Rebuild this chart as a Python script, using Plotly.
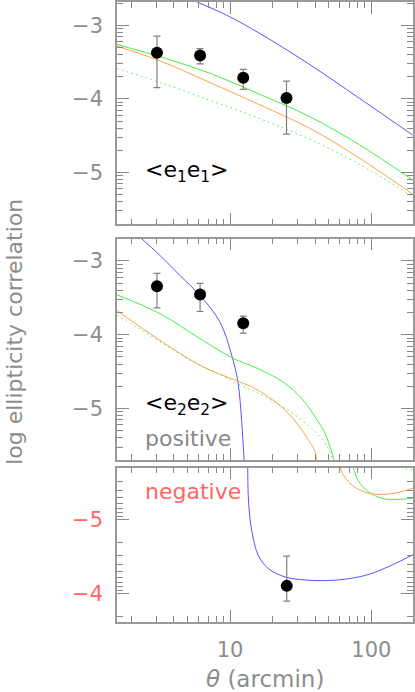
import numpy as np
import plotly.graph_objects as go

# angular scale in arcmin; all y values are log10 of the correlation
theta_obs = [3.04, 6.14, 12.4, 25.1]
e1e1_obs = [-3.375, -3.412, -3.714, -3.99]
e1e1_err_up = [0.226, 0.095, 0.113, 0.23]
e1e1_err_dn = [0.474, 0.112, 0.158, 0.49]

e2e2_pos_theta = [3.04, 6.14, 12.4]
e2e2_pos_obs = [-3.345, -3.457, -3.844]
e2e2_pos_err_up = [0.175, 0.152, 0.095]
e2e2_pos_err_dn = [0.291, 0.229, 0.134]

e2e2_neg_theta = [25.2]
e2e2_neg_obs = [-4.108]
e2e2_neg_err_up = [0.206]
e2e2_neg_err_dn = [0.403]

# model curves, <e1e1>
blue_11_theta = [5.82, 9.48, 16.3, 35.7, 82.6, 195.4]
blue_11 = [-2.684, -2.865, -3.114, -3.52, -3.994, -4.49]
model_11_theta = [1.585, 3.21, 7.23, 16.3, 36.7, 82.6, 197.0]
green_11 = [-3.263, -3.429, -3.655, -3.94, -4.242, -4.625, -5.105]
orange_11 = [-3.284, -3.487, -3.78, -4.083, -4.400, -4.806, -5.298]
dotted_11 = [-3.588, -3.78, -4.02, -4.27, -4.55, -4.89, -5.33]

# model curves, <e2e2> positive part
blue_22p_theta = [2.25, 3.21, 4.44, 6.14, 8.49, 10.28, 11.36, 12.1, 12.5, 12.7]
blue_22p = [-2.662, -2.931, -3.201, -3.470, -3.830, -4.279, -4.635, -5.18, -5.62, -5.85]
green_22p_theta = [1.585, 3.21, 6.14, 10.84, 14.22, 18.66, 24.5, 32.14, 39.9, 46.9, 52.3, 54.3, 55.3]
green_22p = [-3.461, -3.717, -4.054, -4.333, -4.423, -4.526, -4.660, -4.863, -5.110, -5.334, -5.582, -5.694, -5.80]
orange_22p_theta = [1.585, 2.72, 6.14, 10.84, 14.22, 18.66, 24.5, 30.4, 35.8, 39.9, 41.0, 42.0]
orange_22p = [-3.673, -3.987, -4.414, -4.616, -4.706, -4.841, -5.020, -5.222, -5.425, -5.582, -5.694, -5.82]
dotted_22p_theta = [1.585, 2.72, 5.51, 8.49, 10.84, 14.22, 18.66, 24.5, 32.14, 39.9, 46.9, 50.9, 52.8, 54.5]
dotted_22p = [-3.740, -4.009, -4.369, -4.54, -4.65, -4.751, -4.863, -4.997, -5.155, -5.313, -5.469, -5.582, -5.671, -5.80]

# model curves, <e2e2> negative part (log of |value|)
blue_22n_theta = [13.32, 13.34, 13.46, 13.84, 14.62, 15.85, 18.66, 24.5, 32.1, 46.9, 65.0, 94.8, 138.9, 197.2]
blue_22n = [-5.85, -5.709, -5.328, -5.013, -4.744, -4.521, -4.341, -4.229, -4.192, -4.179, -4.198, -4.260, -4.386, -4.529]
orange_22n_theta = [55.8, 59.8, 65.0, 76.4, 94.8, 118.0, 146.6, 197.2]
orange_22n = [-5.82, -5.709, -5.575, -5.440, -5.363, -5.342, -5.359, -5.427]
green_22n_theta = [70.0, 74.3, 80.7, 94.8, 118.0, 146.6, 197.2]
green_22n = [-5.84, -5.709, -5.530, -5.382, -5.292, -5.275, -5.292]
dotted_22n_theta = [160.0, 175.0, 197.2]
dotted_22n = [-5.80, -5.69, -5.68]

BLUE = "#5555ff"
GREEN = "#44ee44"
ORANGE = "#ffa347"
GREY = "#8c8c8c"
RED = "#ff6666"
FONT = "DejaVu Sans"


def model_line(x, y, color, axis, dotted=False):
    return go.Scatter(
        x=x, y=y, mode="lines", xaxis="x" + axis, yaxis="y" + axis,
        line=dict(color=color, width=1, shape="spline", smoothing=1.0,
                  dash="1.5px,3.5px" if dotted else "solid"),
        hoverinfo="skip", showlegend=False,
    )


def obs_points(x, y, up, dn, axis):
    return go.Scatter(
        x=x, y=y, mode="markers", xaxis="x" + axis, yaxis="y" + axis,
        marker=dict(color="black", size=12),
        error_y=dict(type="data", symmetric=False, array=up, arrayminus=dn,
                     color="#808080", thickness=1.2, width=3.5),
        showlegend=False,
    )


traces = [
    model_line(blue_11_theta, blue_11, BLUE, ""),
    model_line(model_11_theta, green_11, GREEN, ""),
    model_line(model_11_theta, orange_11, ORANGE, ""),
    model_line(model_11_theta, dotted_11, GREEN, "", dotted=True),
    obs_points(theta_obs, e1e1_obs, e1e1_err_up, e1e1_err_dn, ""),

    model_line(blue_22p_theta, blue_22p, BLUE, "2"),
    model_line(green_22p_theta, green_22p, GREEN, "2"),
    model_line(orange_22p_theta, orange_22p, ORANGE, "2"),
    model_line(dotted_22p_theta, dotted_22p, GREEN, "2", dotted=True),
    obs_points(e2e2_pos_theta, e2e2_pos_obs, e2e2_pos_err_up, e2e2_pos_err_dn, "2"),

    model_line(blue_22n_theta, blue_22n, BLUE, "3"),
    model_line(green_22n_theta, green_22n, GREEN, "3"),
    model_line(orange_22n_theta, orange_22n, ORANGE, "3"),
    model_line(dotted_22n_theta, dotted_22n, GREEN, "3", dotted=True),
    obs_points(e2e2_neg_theta, e2e2_neg_obs, e2e2_neg_err_up, e2e2_neg_err_dn, "3"),
]

# minor tick positions: log10(k * 10^n)
x_minor = [k * 10.0 ** n for n in range(0, 3) for k in range(2, 10)]
y_minor = [n + np.log10(k) for n in range(-7, -1) for k in range(2, 10)]


def x_axis(anchor, labels):
    return dict(
        type="log", range=[0.2, 2.295], anchor=anchor,
        showline=True, linecolor="#999999", linewidth=1.5, mirror="ticks",
        ticks="inside", ticklen=12, tickwidth=1, tickcolor="#888888",
        tickvals=[10, 100], ticktext=["10", "100"], showticklabels=labels,
        tickfont=dict(family=FONT, size=21, color=GREY), ticklabelstandoff=8,
        minor=dict(tickvals=x_minor, ticks="inside", ticklen=6, tickcolor="#888888"),
        showgrid=False, zeroline=False,
    )


def y_axis(anchor, domain, rng, vals, color):
    return dict(
        domain=domain, range=rng, anchor=anchor,
        showline=True, linecolor="#999999", linewidth=1.5, mirror="ticks",
        ticks="inside", ticklen=12, tickwidth=1, tickcolor="#888888",
        tickvals=vals, ticktext=["\u2212" + str(abs(v)) for v in vals],
        tickfont=dict(family=FONT, size=21, color=color), ticklabelstandoff=8,
        minor=dict(tickvals=y_minor, ticks="inside", ticklen=6, tickcolor="#888888"),
        showgrid=False, zeroline=False,
    )


layout = go.Layout(
    width=415, height=692,
    margin=dict(l=117, r=1.5, t=0, b=69.5),
    plot_bgcolor="white", paper_bgcolor="white",
    showlegend=False,
    xaxis=x_axis("y", False),
    xaxis2=x_axis("y2", False),
    xaxis3=x_axis("y3", True),
    yaxis=y_axis("x", [0.6413, 1.0], [-5.705, -2.685], [-5, -4, -3], GREY),
    yaxis2=y_axis("x2", [0.2610, 0.6182], [-5.70, -2.70], [-5, -4, -3], GREY),
    yaxis3=y_axis("x3", [0.0, 0.2490], [-3.62, -5.705], [-5, -4], RED),
    annotations=[
        dict(text="&lt;e<sub>1</sub>e<sub>1</sub>&gt;", x=np.log10(2.43), y=-4.99,
             xref="x", yref="y", xanchor="left", yanchor="middle", showarrow=False,
             font=dict(family=FONT, size=22, color="black")),
        dict(text="&lt;e<sub>2</sub>e<sub>2</sub>&gt;", x=np.log10(2.43), y=-4.95,
             xref="x2", yref="y2", xanchor="left", yanchor="middle", showarrow=False,
             font=dict(family=FONT, size=22, color="black")),
        dict(text="positive", x=np.log10(2.43), y=-5.41,
             xref="x2", yref="y2", xanchor="left", yanchor="middle", showarrow=False,
             font=dict(family=FONT, size=22, color="#888888")),
        dict(text="negative", x=np.log10(2.43), y=-5.377,
             xref="x3", yref="y3", xanchor="left", yanchor="middle", showarrow=False,
             font=dict(family=FONT, size=22, color=RED)),
        dict(text="log ellipticity correlation", x=-0.349, y=0.4675,
             xref="paper", yref="paper", xanchor="center", yanchor="middle",
             textangle=-90, showarrow=False,
             font=dict(family=FONT, size=22, color=GREY)),
        dict(text="<i>\u03b8</i> (arcmin)", x=0.5, y=-0.0924,
             xref="paper", yref="paper", xanchor="center", yanchor="middle",
             showarrow=False, font=dict(family=FONT, size=23, color=GREY)),
    ],
)

fig = go.Figure(data=traces, layout=layout)
fig.write_html("out.html", config={"displayModeBar": False},
               post_script="document.body.style.margin = '0';")
